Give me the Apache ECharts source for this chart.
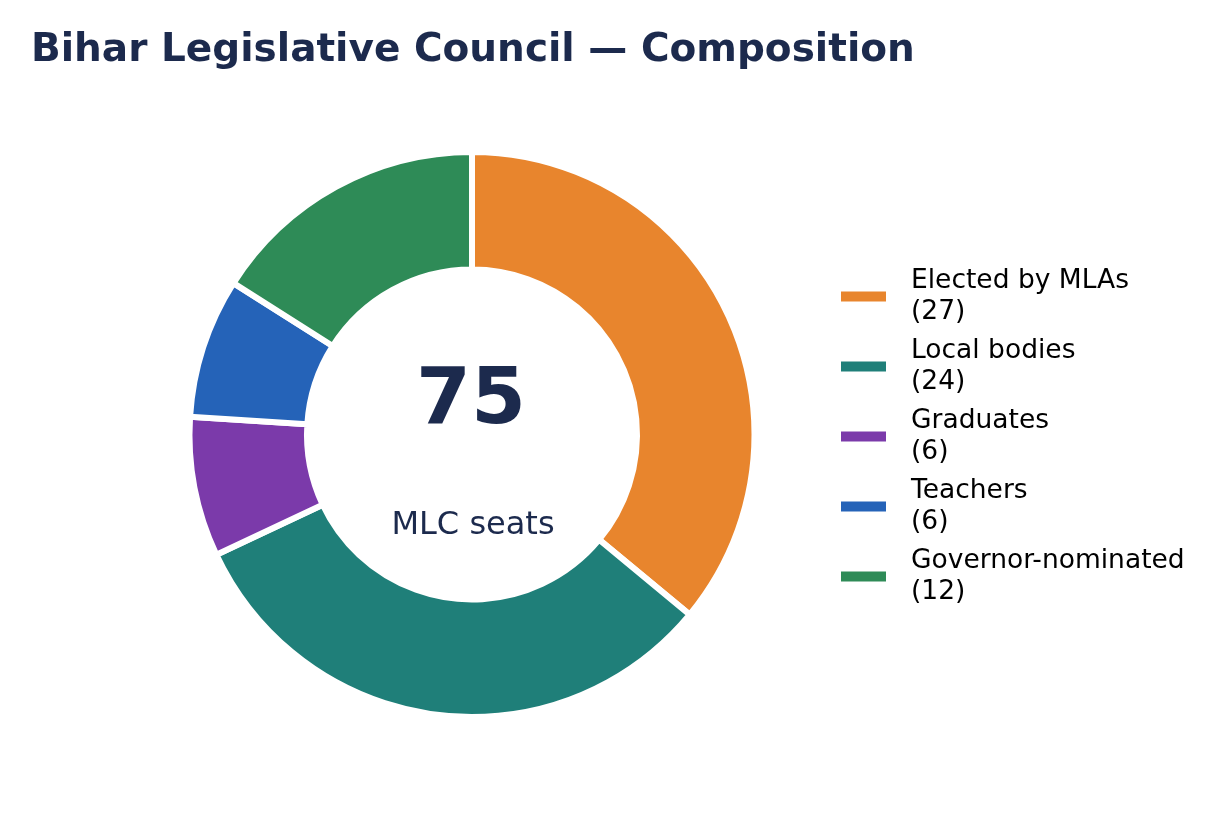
<!DOCTYPE html>
<html>
<head>
<meta charset="utf-8">
<script src="https://cdn.jsdelivr.net/npm/echarts@6/dist/echarts.min.js"></script>
<style>
  html, body { margin: 0; padding: 0; background: #fff; }
  #main { width: 1230px; height: 819px; }
</style>
</head>
<body>
<div id="main"></div>
<script>
// seat groups
const groups = ['Elected by MLAs', 'Local bodies', 'Graduates', 'Teachers', 'Governor-nominated'];
const seats = [27, 24, 6, 6, 12];
const colours = ['#E8852D', '#1F7F79', '#7B3AAA', '#2563B8', '#2E8B57'];

const total = seats.reduce((a, b) => a + b, 0);
const font = 'DejaVu Sans';

let myChart = echarts.init(document.getElementById('main'));

var option = {
  animation: false,
  title: [
    {
      text: 'Bihar Legislative Council — Composition',
      left: 26, top: 26,
      textStyle: { fontFamily: font, fontWeight: 'bold', fontSize: 39, color: '#1C2A4D' }
    },
    {
      text: String(total),
      left: 466, top: 358, textAlign: 'center',
      textStyle: { fontFamily: font, fontWeight: 'bold', fontSize: 79, color: '#1C2A4D' }
    },
    {
      text: 'MLC seats',
      left: 468, top: 505, textAlign: 'center',
      textStyle: { fontFamily: font, fontWeight: 'normal', fontSize: 32, color: '#1C2A4D' }
    }
  ],
  legend: {
    orient: 'vertical',
    left: 839, top: 265,
    padding: 0,
    icon: 'rect',
    itemWidth: 47, itemHeight: 12,
    itemGap: 7,
    data: groups,
    formatter: function (name) {
      return name + '\n(' + seats[groups.indexOf(name)] + ')';
    },
    textStyle: { fontFamily: font, fontSize: 26.5, color: '#000', lineHeight: 31.5, padding: [0, 0, 0, 19] }
  },
  series: [
    {
      type: 'pie',
      center: [472, 434.5],
      radius: [165, 282.5],
      startAngle: 90,
      clockwise: true,
      label: { show: false },
      labelLine: { show: false },
      emphasis: { disabled: true },
      itemStyle: { borderColor: '#fff', borderWidth: 6 },
      data: groups.map((g, i) => ({ name: g, value: seats[i], itemStyle: { color: colours[i] } }))
    }
  ]
};
myChart.setOption(option);
</script>
</body>
</html>
